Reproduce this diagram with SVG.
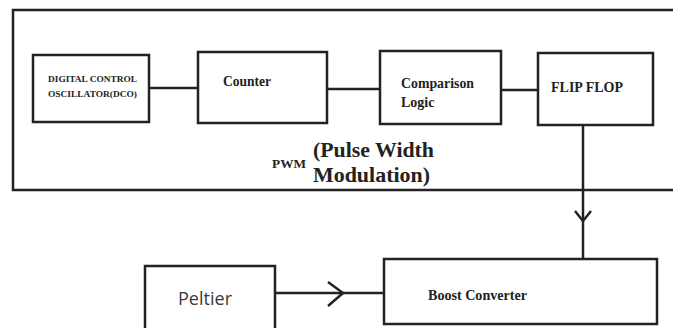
<svg xmlns="http://www.w3.org/2000/svg" width="673" height="328" viewBox="0 0 673 328">
<style>
.box{fill:#fff;stroke:#222;stroke-width:2.5}
.ln{fill:none;stroke:#222;stroke-width:2.5}
.t{font-family:"Liberation Serif","Times New Roman",serif;font-weight:bold;fill:#222}
.p{font-family:"Open Sans","Noto Sans",sans-serif;fill:#3a3a3a}
</style>
<rect width="673" height="328" fill="#fff"/>
<g id="pwm-frame">
<path class="ln" d="M680,10 H13 V190 H680" stroke-width="3"/>
<text class="t" x="272" y="168" font-size="13" textLength="34" lengthAdjust="spacingAndGlyphs">PWM</text>
<text class="t" x="313" y="157" font-size="21" textLength="121" lengthAdjust="spacingAndGlyphs">(Pulse Width</text>
<text class="t" x="313" y="182" font-size="21" textLength="117" lengthAdjust="spacingAndGlyphs">Modulation)</text>
</g>
<g id="connectors">
<line class="ln" x1="149" y1="88" x2="198" y2="88"/>
<line class="ln" x1="327" y1="89" x2="380" y2="89"/>
<line class="ln" x1="501" y1="90" x2="538" y2="90" stroke-width="3"/>
<line class="ln" x1="583" y1="125" x2="583" y2="259"/>
<polyline class="ln" points="575,211 583,221 591,211" stroke-width="3"/>
<line class="ln" x1="275" y1="293" x2="384" y2="293"/>
<polyline class="ln" points="328,282 343,293 328,306" stroke-width="3"/>
</g>
<g id="dco">
<rect class="box" x="33" y="55" width="116" height="67"/>
<text class="t" x="48" y="82" font-size="9" textLength="89" lengthAdjust="spacingAndGlyphs">DIGITAL CONTROL</text>
<text class="t" x="48" y="97" font-size="9" textLength="89" lengthAdjust="spacingAndGlyphs">OSCILLATOR(DCO)</text>
</g>
<g id="counter">
<rect class="box" x="198" y="52" width="129" height="71"/>
<text class="t" x="223" y="86" font-size="14" textLength="48" lengthAdjust="spacingAndGlyphs">Counter</text>
</g>
<g id="comparison">
<rect class="box" x="380" y="51" width="121" height="73"/>
<text class="t" x="401" y="88" font-size="14" textLength="73" lengthAdjust="spacingAndGlyphs">Comparison</text>
<text class="t" x="401" y="107" font-size="14">Logic</text>
</g>
<g id="flipflop">
<rect class="box" x="538" y="53" width="115" height="72"/>
<text class="t" x="551" y="92" font-size="14" textLength="72" lengthAdjust="spacingAndGlyphs">FLIP FLOP</text>
</g>
<g id="boost">
<rect class="box" x="384" y="259" width="273" height="65"/>
<text class="t" x="428" y="300" font-size="14" textLength="99" lengthAdjust="spacingAndGlyphs">Boost Converter</text>
</g>
<g id="peltier">
<rect class="box" x="145" y="266" width="130" height="70"/>
<text class="p" x="178" y="305" font-size="18" textLength="54" lengthAdjust="spacingAndGlyphs">Peltier</text>
</g>
</svg>
